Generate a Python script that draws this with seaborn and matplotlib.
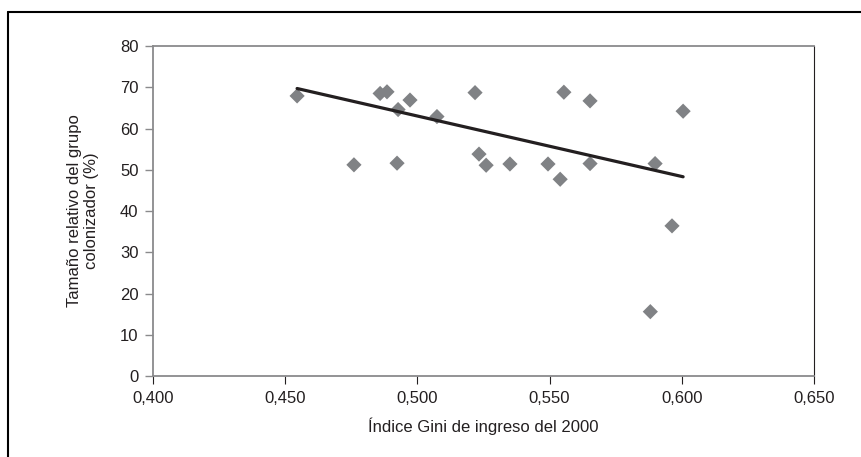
import numpy as np
import pandas as pd
import matplotlib
matplotlib.use("Agg")
import matplotlib.pyplot as plt
from matplotlib.lines import Line2D
from matplotlib.ticker import FuncFormatter
import seaborn as sns

# ── Data ─────────────────────────────────────────────────────────────────────
gini = [0.4545, 0.476, 0.4859, 0.4885, 0.4927, 0.4923, 0.4972, 0.5074,
        0.5218, 0.5233, 0.526, 0.535, 0.5494, 0.554, 0.5554, 0.5653,
        0.5653, 0.5899, 0.6005, 0.5881, 0.5963]
tamano = [67.9, 51.2, 68.5, 68.9, 64.6, 51.6, 66.9, 62.9,
          68.7, 53.8, 51.1, 51.4, 51.4, 47.7, 68.8, 66.7,
          51.5, 51.5, 64.2, 15.6, 36.4]

# linear trend line as drawn in the source chart
trend_gini = [0.4545, 0.6005]
trend_tamano = [69.7, 48.3]

df = pd.DataFrame({"gini": gini, "tamano": tamano})
trend = pd.DataFrame({"gini": trend_gini, "tamano": trend_tamano})

X_TICKS = [0.400, 0.450, 0.500, 0.550, 0.600, 0.650]
Y_TICKS = [0, 10, 20, 30, 40, 50, 60, 70, 80]

TEXT = "#231f20"
GRAY = "#8a8a8c"
MARK = "#808285"
FS = 12

sns.set_style("white")
plt.rcParams["font.family"] = ["Liberation Sans", "DejaVu Sans"]

fig = plt.figure(figsize=(8.62, 4.57), dpi=100)
ax = fig.add_axes([0.1775, 0.1772, 0.7668, 0.7221])

sns.scatterplot(data=df, x="gini", y="tamano", marker="D", s=60,
                color=MARK, edgecolor="none", ax=ax, zorder=3)
sns.lineplot(data=trend, x="gini", y="tamano", color=TEXT, linewidth=2.3,
             ax=ax, zorder=4)

ax.set_xlim(0.400, 0.650)
ax.set_ylim(0, 80)
ax.set_xticks(X_TICKS)
ax.set_yticks(Y_TICKS)
ax.xaxis.set_major_formatter(FuncFormatter(lambda v, _: f"{v:.3f}".replace(".", ",")))

ax.set_xlabel("Índice Gini de ingreso del 2000", fontsize=FS, color=TEXT,
              labelpad=8)
ax.set_ylabel("Tamaño relativo del grupo\ncolonizador (%)", fontsize=FS,
              color=TEXT, labelpad=15, linespacing=1.15)

for side in ["left", "bottom", "top"]:
    ax.spines[side].set_color(GRAY)
    ax.spines[side].set_linewidth(1.3)
ax.spines["right"].set_color(TEXT)
ax.spines["right"].set_linewidth(0.8)

ax.tick_params(axis="y", direction="out", length=5.5, width=1, color=GRAY,
               labelsize=FS, labelcolor=TEXT, pad=5, left=True)
ax.tick_params(axis="x", direction="out", length=6, width=0.8, color=TEXT,
               labelsize=FS, labelcolor=TEXT, pad=5, bottom=True)

# outer frame of the figure (top and left edges)
x0 = 8 / 862
y0 = 1 - 12 / 457
fig.add_artist(Line2D([x0, 1.0], [y0, y0], transform=fig.transFigure,
                      color="black", linewidth=1.5))
fig.add_artist(Line2D([x0, x0], [0.0, y0], transform=fig.transFigure,
                      color="black", linewidth=1.5))

fig.savefig("out.png", dpi=100)
